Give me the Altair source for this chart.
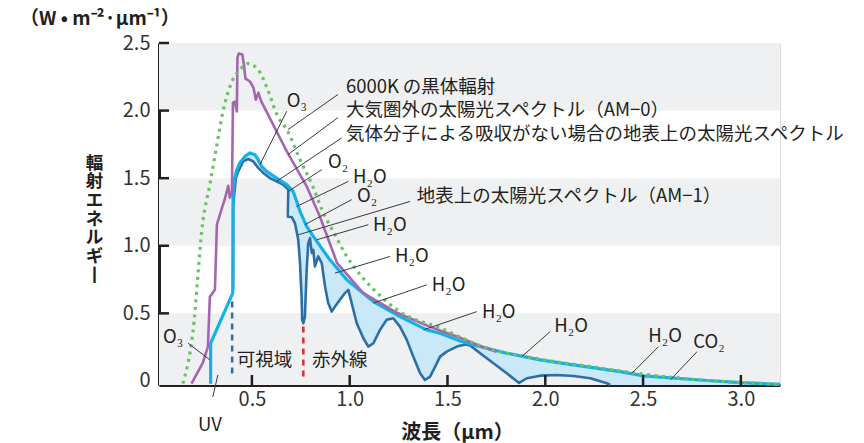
import altair as alt
import pandas as pd
import numpy as np

FONT = "Noto Sans CJK JP"
INK = "#231f20"

# ---- series (wavelength um, W m-2 um-1) ----
# 6000K blackbody (green dotted)
bb_x = [0.147, 0.198, 0.249, 0.285, 0.321, 0.352, 0.398, 0.439, 0.480, 0.531, 0.577, 0.628, 0.684,
        0.746, 0.812, 0.858, 0.925, 0.986, 1.063, 1.140, 1.257, 1.462, 1.682, 1.938, 2.281, 2.537,
        2.793, 3.049, 3.2]
bb_y = [-0.02, 0.356, 1.178, 1.452, 1.748, 1.993, 2.215, 2.304, 2.348, 2.304, 2.170, 1.970, 1.844,
        1.637, 1.437, 1.267, 1.081, 0.919, 0.770, 0.652, 0.511, 0.393, 0.252, 0.170, 0.096, 0.044,
        0.007, -0.015, -0.025]

# AM-0 (purple)
am0_x = [0.191, 0.249, 0.275, 0.285, 0.311, 0.321, 0.347, 0.362, 0.379, 0.387, 0.398, 0.403, 0.413,
         0.423, 0.426, 0.433, 0.451, 0.459, 0.467, 0.490, 0.508, 0.520, 0.533, 0.546, 0.679, 0.781,
         0.848, 0.935, 1.068, 1.242, 1.411, 1.565, 1.682, 1.75]
am0_y = [-0.02, 0.133, 0.252, 0.622, 0.674, 1.156, 1.281, 1.348, 1.444, 1.356, 1.393, 2.059, 2.067,
         1.993, 2.393, 2.422, 2.415, 2.341, 2.237, 2.215, 2.170, 2.081, 2.133, 2.074, 1.696, 1.437,
         1.215, 0.874, 0.652, 0.504, 0.400, 0.320, 0.250, 0.215]

# ground spectrum without gas absorption (cyan)
cy_x = [0.289, 0.289, 0.402, 0.404, 0.412, 0.422, 0.439, 0.464, 0.490, 0.515, 0.532, 0.550, 0.575,
        0.626, 0.678, 0.711, 0.729, 0.746, 0.780, 0.814, 0.899, 0.985, 1.121, 1.257, 1.394, 1.462,
        1.565, 1.633, 1.803, 1.974, 2.144, 2.383, 2.503, 2.793, 2.997, 3.2]
cy_y = [-0.02, 0.279, 0.650, 1.400, 1.500, 1.560, 1.615, 1.661, 1.687, 1.674, 1.637, 1.587, 1.550,
        1.501, 1.452, 1.402, 1.328, 1.254, 1.143, 1.069, 0.896, 0.748, 0.587, 0.476, 0.378, 0.353,
        0.295, 0.267, 0.205, 0.156, 0.119, 0.069, 0.037, 0.007, -0.013, -0.025]

# AM-1 ground spectrum (dark blue)
am1_x = [0.404, 0.404, 0.418, 0.430, 0.455, 0.481, 0.507, 0.532, 0.558, 0.592, 0.626, 0.660, 0.686,
         0.684, 0.703, 0.720, 0.737, 0.746, 0.754, 0.757, 0.763, 0.771, 0.780, 0.788, 0.797, 0.806,
         0.814, 0.822, 0.839, 0.857, 0.874, 0.890, 0.908, 0.925, 0.950, 0.976, 0.993, 1.010, 1.036,
         1.070, 1.095, 1.121, 1.155, 1.189, 1.223, 1.257, 1.292, 1.325, 1.360, 1.385, 1.411, 1.437,
         1.462, 1.496, 1.548, 1.590, 1.616, 1.667, 1.735, 1.803, 1.866, 1.906, 1.974, 2.059, 2.144,
         2.230, 2.315, 2.332]
am1_y = [0.674, 1.300, 1.500, 1.550, 1.624, 1.642, 1.624, 1.576, 1.539, 1.501, 1.476, 1.452, 1.415,
         1.215, 1.213, 1.168, 1.044, 0.872, 0.624, 0.452, 0.427, 0.476, 0.822, 1.020, 1.057, 0.946,
         0.970, 0.847, 0.921, 0.872, 0.699, 0.576, 0.513, 0.550, 0.600, 0.650, 0.674, 0.576, 0.427,
         0.316, 0.254, 0.279, 0.378, 0.452, 0.464, 0.402, 0.304, 0.180, 0.057, 0.007, 0.032, 0.106,
         0.180, 0.217, 0.254, 0.270, 0.262, 0.205, 0.131, 0.057, -0.015, 0.020, 0.039, 0.044, 0.037,
         0.020, -0.017, -0.03]

# background bands
band_lo = [-0.03, 1.0, 2.0]
band_hi = [0.5, 1.5, 2.5]
X_MIN, X_MAX = 0.025, 3.2
Y_MIN, Y_MAX = -0.03, 2.5

x_ticks = [0.5, 1.0, 1.5, 2.0, 2.5, 3.0]
y_ticks = [0.5, 1.0, 1.5, 2.0, 2.5]
y_label_vals = [0, 0.5, 1.0, 1.5, 2.0, 2.5]

# annotations
lab_text = ["6000K\u2009の黒体輻射", "大気圏外の太陽光スペクトル（AM−0）",
            "気体分子による吸収がない場合の地表上の太陽光スペクトル",
            "O₂", "H₂O", "O₂", "地表上の太陽光スペクトル（AM−1）", "H₂O", "H₂O", "H₂O",
            "H₂O", "H₂O", "H₂O", "CO₂", "O₃", "O₃", "UV", "可視域", "赤外線"]
lab_x = [0.981, 0.981, 0.981, 0.889, 1.017, 1.037, 1.343, 1.119, 1.232, 1.420, 1.676, 2.046, 2.527,
         2.757, 0.678, 0.045, 0.285, 0.423, 0.807]
lab_y = [2.178, 2.007, 1.830, 1.622, 1.511, 1.370, 1.370, 1.156, 0.926, 0.711, 0.513, 0.407, 0.333,
         0.291, 2.069, 0.328, -0.326, 0.156, 0.156]
lab_align = ["left"] * 16 + ["center", "left", "left"]

# leader lines (label end -> curve)
ld_x1 = [0.940, 0.940, 0.959, 0.857, 0.993, 1.010, 1.309, 1.095, 1.206, 1.394, 1.650, 2.025, 2.579,
         2.776, 0.678, 0.174, 0.326]
ld_y1 = [2.119, 1.948, 1.798, 1.563, 1.476, 1.341, 1.328, 1.156, 0.921, 0.711, 0.513, 0.365, 0.254,
         0.217, 1.995, 0.279, 0.044]
ld_x2 = [0.684, 0.684, 0.626, 0.686, 0.729, 0.771, 0.737, 0.831, 0.925, 1.121, 1.377, 1.880, 2.443,
         2.639, 0.541, 0.285, 0.300]
ld_y2 = [1.859, 1.674, 1.476, 1.402, 1.291, 1.156, 1.081, 1.044, 0.798, 0.576, 0.378, 0.180, 0.057,
         0.007, 1.600, 0.156, -0.119]

# dividers (visible / infrared)
div_x = [0.399, 0.763]
div_y1 = [0.587, 0.402]
div_y2 = [0.044, 0.007]
div_color = ["#2d6ea5", "#e8262b"]

# ---- build tables ----
def series(xs_, ys_):
    return pd.DataFrame({"x": xs_, "y": ys_, "i": range(len(xs_))})

bb = series(bb_x, bb_y)
am0 = series(am0_x, am0_y)
cy = series(cy_x, cy_y)
am1 = series(am1_x, am1_y)

# band between cyan (top) and AM-1 (bottom)
fx_b, fy_b = [], []
for xv, yv in zip(am1_x, am1_y):
    if not fx_b or xv > fx_b[-1]:
        fx_b.append(xv); fy_b.append(yv)
    elif xv == fx_b[-1]:
        fy_b[-1] = yv
fx_b.append(X_MAX); fy_b.append(Y_MIN)
cx_t = [x for x in cy_x if x >= 0.404]
cy_t = [y for x, y in zip(cy_x, cy_y) if x >= 0.404]
grid = sorted(set(cx_t + fx_b))
top = np.interp(grid, cx_t, cy_t)
bot = np.minimum(np.interp(grid, fx_b, fy_b), top)
fill = pd.DataFrame({"x": grid, "top": top, "bot": bot})

bands = pd.DataFrame({"x0": X_MIN, "x1": X_MAX, "lo": band_lo, "hi": band_hi})
labels = pd.DataFrame({"x": lab_x, "y": lab_y, "t": lab_text, "a": lab_align})
leaders = pd.DataFrame({"x": ld_x1, "y": ld_y1, "x2": ld_x2, "y2": ld_y2})
divs = pd.DataFrame({"x": div_x, "y": div_y1, "y2": div_y2, "c": div_color})
xt = pd.DataFrame({"x": x_ticks, "y": Y_MIN, "y2": Y_MIN + 0.074})
yt = pd.DataFrame({"y": y_ticks, "x": X_MIN, "x2": X_MIN + 0.051})

xs = alt.Scale(domain=[X_MIN, X_MAX], nice=False, zero=False)
ys = alt.Scale(domain=[Y_MIN, Y_MAX], nice=False, zero=False)

x_axis = alt.Axis(values=x_ticks, format=".1f", labelFont=FONT, labelFontSize=20,
                  labelColor="#333333", ticks=False, tickSize=0, labelPadding=4,
                  domainColor=INK, domainWidth=3, grid=False,
                  title="波長（μm）", titleFont=FONT, titleFontSize=20, titleFontWeight="bold",
                  titleColor=INK, titleX=298, titleY=47, titleAlign="center",
                  titleBaseline="middle")
y_axis = alt.Axis(values=y_label_vals,
                  labelExpr="datum.value == 0 ? '0' : format(datum.value, '.1f')",
                  labelFont=FONT, labelFontSize=20, labelColor="#333333", ticks=False,
                  tickSize=0, labelPadding=9, domainColor=INK, domainWidth=3, grid=False,
                  title=["輻", "射", "エ", "ネ", "ル", "ギ", "丨"], titleAngle=0,
                  titleFont=FONT, titleFontSize=17.5, titleFontWeight="bold", titleColor=INK,
                  titleX=-65, titleY=120, titleAlign="center", titleBaseline="middle",
                  titleLineHeight=18.7)

def X(f):
    return alt.X(f, scale=xs, axis=x_axis)

def Y(f):
    return alt.Y(f, scale=ys, axis=y_axis)

band_layer = alt.Chart(bands).mark_rect(color="#eff0f2").encode(
    x=X("x0:Q"), x2="x1:Q", y=Y("lo:Q"), y2="hi:Q")

fill_layer = alt.Chart(fill).mark_area(color="#c9e8f8", interpolate="monotone").encode(
    x=X("x:Q"), y=Y("top:Q"), y2="bot:Q")

div_layer = alt.Chart(divs).mark_rule(strokeWidth=2.5, strokeDash=[6, 5]).encode(
    x=X("x:Q"), y=Y("y:Q"), y2="y2:Q", color=alt.Color("c:N", scale=None))

def line(df, color, width, dash=None, interp="linear"):
    kw = dict(color=color, strokeWidth=width, strokeJoin="round", strokeCap="butt",
              interpolate=interp)
    if dash:
        kw["strokeDash"] = dash
    return alt.Chart(df).mark_line(**kw).encode(x=X("x:Q"), y=Y("y:Q"), order="i:Q")

am1_layer = line(am1, "#2d6ea5", 2.6)
cy_layer = line(cy, "#16b0e8", 3.2)
am0_layer = line(am0, "#a466ae", 2.6)
bb_layer = line(bb, "#6cc167", 3.2, dash=[3, 4.5], interp="monotone")

lead_layer = alt.Chart(leaders).mark_rule(color="#3a3a3a", strokeWidth=1).encode(
    x=X("x:Q"), y=Y("y:Q"), x2="x2:Q", y2="y2:Q")

text_left = alt.Chart(labels[labels.a == "left"]).mark_text(
    align="left", baseline="middle", font=FONT, fontSize=18.5, color=INK).encode(
    x=X("x:Q"), y=Y("y:Q"), text="t:N")
text_center = alt.Chart(labels[labels.a == "center"]).mark_text(
    align="center", baseline="middle", font=FONT, fontSize=18.5, color=INK).encode(
    x=X("x:Q"), y=Y("y:Q"), text="t:N")

xt_layer = alt.Chart(xt).mark_rule(color=INK, strokeWidth=2.5).encode(
    x=X("x:Q"), y=Y("y:Q"), y2="y2:Q")
yt_layer = alt.Chart(yt).mark_rule(color=INK, strokeWidth=2.5).encode(
    x=X("x:Q"), x2="x2:Q", y=Y("y:Q"))

chart = alt.layer(
    band_layer, fill_layer, div_layer, am1_layer, cy_layer, am0_layer, bb_layer,
    lead_layer, text_left, text_center, xt_layer, yt_layer
).properties(
    width=621, height=342,
    padding={"left": 159, "top": 43, "right": 84, "bottom": 58},
    autosize=alt.AutoSizeParams(type="none"),
    title=alt.Title("（W • m⁻²·μm⁻¹）", anchor="start", frame="group", dx=-139, offset=4,
                    font=FONT, fontSize=19, fontWeight="bold", color=INK),
).configure_view(stroke=None).configure(background="white")

chart.save("out.html", embed_options={"renderer": "svg", "actions": False})
